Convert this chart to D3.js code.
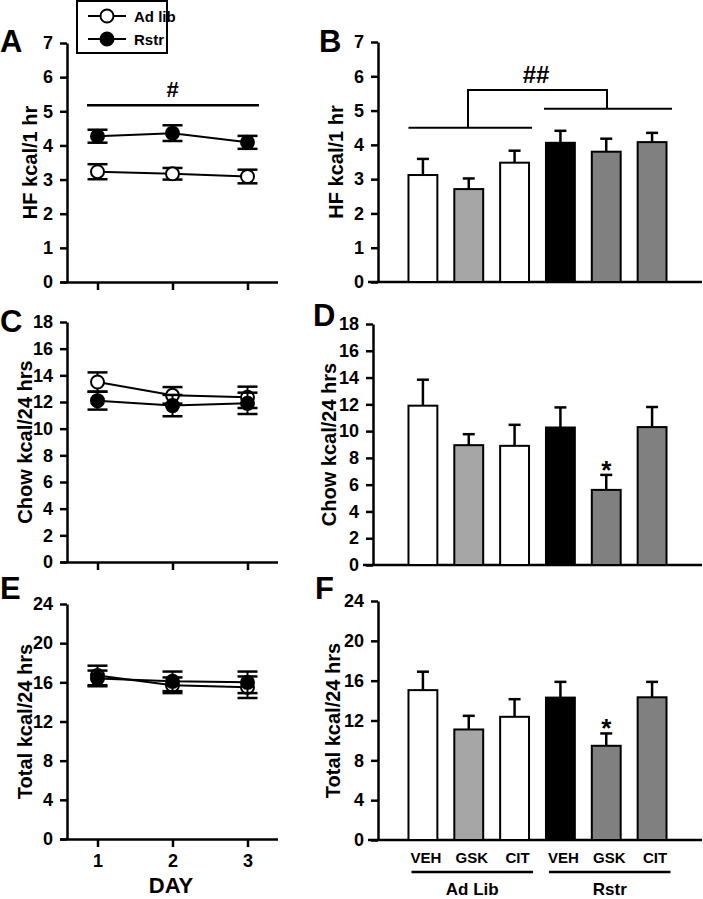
<!DOCTYPE html>
<html>
<head>
<meta charset="utf-8">
<script src="https://cdn.jsdelivr.net/npm/d3@7"></script>
<style>
body { margin: 0; background: #fff; }
text { font-family: "Liberation Sans", Arial, sans-serif; font-weight: bold; fill: #000; }
</style>
</head>
<body>
<script>
// ---- data ----
var days = [1, 2, 3];

var hfAdLib = [3.23, 3.17, 3.09], hfAdLibErr = [0.22, 0.17, 0.20];
var hfRstr = [4.27, 4.36, 4.09], hfRstrErr = [0.19, 0.23, 0.19];
var chowAdLib = [13.5, 12.5, 12.35], chowAdLibErr = [0.72, 0.62, 0.8];
var chowRstr = [12.1, 11.73, 11.9], chowRstrErr = [0.67, 0.8, 0.8];
var totalAdLib = [16.7, 15.7, 15.5], totalAdLibErr = [1.0, 0.8, 1.1];
var totalRstr = [16.4, 16.1, 16.0], totalRstrErr = [0.8, 1.0, 1.1];

var drugs = ["VEH", "GSK", "CIT", "VEH", "GSK", "CIT"];
var feeding = ["Ad Lib", "Rstr"];
var hfBar = [3.12, 2.71, 3.48, 4.06, 3.80, 4.08], hfBarErr = [0.47, 0.31, 0.35, 0.35, 0.38, 0.27];
var chowBar = [11.9, 8.95, 8.9, 10.27, 5.61, 10.3], chowBarErr = [1.94, 0.82, 1.57, 1.5, 1.12, 1.5];
var totalBar = [15.05, 11.1, 12.37, 14.3, 9.46, 14.33], totalBarErr = [1.85, 1.37, 1.77, 1.58, 1.24, 1.55];
var barFill = ["#fff", "#a6a6a6", "#fff", "#000", "#808080", "#808080"];

var hfTicks = [0, 1, 2, 3, 4, 5, 6, 7],
	chowTicks = [0, 2, 4, 6, 8, 10, 12, 14, 16, 18],
	totalTicks = [0, 4, 8, 12, 16, 20, 24];

var svg = d3.select("body").append("svg")
	.attr("width", 703).attr("height", 899);

function styleAxis(g) {
	g.select(".domain").attr("stroke-width", 2.5);
	g.selectAll(".tick line").attr("stroke-width", 2.5);
	g.selectAll("text").attr("font-size", 18).attr("font-family", "Liberation Sans").attr("font-weight", "bold");
}

function yAxisDraw(y, ax, ticks, title, titleX) {
	svg.append("g")
		.attr("transform", "translate(" + ax + ",0)")
		.call(d3.axisLeft(y).tickValues(ticks).tickFormat(d3.format("d"))
			.tickSize(7).tickPadding(7).tickSizeOuter(0))
		.call(styleAxis);
	var mid = (y.range()[0] + y.range()[1]) / 2;
	svg.append("text")
		.attr("transform", "translate(" + titleX + "," + mid + ") rotate(-90)")
		.attr("text-anchor", "middle").attr("dy", "0.35em")
		.attr("font-size", 20)
		.text(title);
}

function letter(t, x, y) {
	svg.append("text").attr("x", x).attr("y", y).attr("font-size", 31).text(t);
}

// ---- line panels (A, C, E) ----
function linePanel(p) {
	var x = d3.scaleLinear().domain([0.5, 3.4]).range([60, 277.5]);
	var y = d3.scaleLinear().domain([0, p.max]).range([p.y0, p.yTop]);
	yAxisDraw(y, 67, p.ticks, p.title, p.titleX);

	svg.append("g")
		.attr("transform", "translate(0," + p.y0 + ")")
		.call(d3.axisBottom(x).tickValues(days).tickFormat(d3.format("d"))
			.tickSize(8).tickPadding(7).tickSizeOuter(0))
		.call(styleAxis)
		.call(function(g) { if (!p.labels) g.selectAll("text").remove(); });

	var series = [
		{v: p.adlib, e: p.adlibErr, fill: "#fff"},
		{v: p.rstr, e: p.rstrErr, fill: "#000"}
	];
	var line = d3.line().x(function(d, i) { return x(days[i]); }).y(function(d) { return y(d); });

	series.forEach(function(s) {
		var g = svg.append("g");
		g.append("path").attr("d", line(s.v)).attr("fill", "none").attr("stroke", "#000").attr("stroke-width", 2);
		s.v.forEach(function(v, i) {
			var cx = x(days[i]);
			g.append("line").attr("x1", cx).attr("x2", cx).attr("y1", y(v - s.e[i])).attr("y2", y(v + s.e[i]))
				.attr("stroke", "#000").attr("stroke-width", 2);
			[v - s.e[i], v + s.e[i]].forEach(function(c) {
				g.append("line").attr("x1", cx - 10).attr("x2", cx + 10).attr("y1", y(c)).attr("y2", y(c))
					.attr("stroke", "#000").attr("stroke-width", 2.5);
			});
			g.append("circle").attr("cx", cx).attr("cy", y(v)).attr("r", 6.5)
				.attr("fill", s.fill).attr("stroke", "#000").attr("stroke-width", 2);
		});
	});
	return {x: x, y: y};
}

// ---- bar panels (B, D, F) ----
function barPanel(p) {
	var x = d3.scaleBand().domain(d3.range(drugs.length)).range([400, 675])
		.paddingInner(0.37).paddingOuter(0.185);
	var y = d3.scaleLinear().domain([0, p.max]).range([p.y0, p.yTop]);
	yAxisDraw(y, p.ax, p.ticks, p.title, p.titleX);

	svg.append("line").attr("x1", p.ax - 10).attr("x2", 702).attr("y1", p.y0).attr("y2", p.y0)
		.attr("stroke", "#000").attr("stroke-width", 2.5);

	var g = svg.append("g");
	p.vals.forEach(function(v, i) {
		var cx = x(i) + x.bandwidth() / 2;
		g.append("line").attr("x1", cx).attr("x2", cx).attr("y1", y(v)).attr("y2", y(v + p.err[i]))
			.attr("stroke", "#000").attr("stroke-width", 2.5);
		g.append("line").attr("x1", cx - 6).attr("x2", cx + 6).attr("y1", y(v + p.err[i])).attr("y2", y(v + p.err[i]))
			.attr("stroke", "#000").attr("stroke-width", 2.5);
		g.append("rect").attr("x", x(i)).attr("y", y(v)).attr("width", x.bandwidth()).attr("height", p.y0 - y(v))
			.attr("fill", barFill[i]).attr("stroke", "#000").attr("stroke-width", 2);
	});
	return {x: x, y: y};
}

// A
letter("A", 0, 52);
var A = linePanel({max: 7, y0: 282, yTop: 43, ticks: hfTicks, title: "HF kcal/1 hr", titleX: 30,
	adlib: hfAdLib, adlibErr: hfAdLibErr, rstr: hfRstr, rstrErr: hfRstrErr});
svg.append("line").attr("x1", 87).attr("x2", 259).attr("y1", A.y(5.18)).attr("y2", A.y(5.18))
	.attr("stroke", "#000").attr("stroke-width", 2.5);
svg.append("text").attr("x", A.x(2)).attr("y", A.y(5.18) - 8).attr("text-anchor", "middle")
	.attr("font-size", 22).attr("font-weight", "normal").text("#");

// legend
var leg = svg.append("g");
leg.append("rect").attr("x", 77).attr("y", 1).attr("width", 90).attr("height", 52)
	.attr("fill", "#fff").attr("stroke", "#000").attr("stroke-width", 2);
[{t: "Ad lib", f: "#fff", y: 16}, {t: "Rstr", f: "#000", y: 39}].forEach(function(d) {
	leg.append("line").attr("x1", 88).attr("x2", 126).attr("y1", d.y).attr("y2", d.y)
		.attr("stroke", "#000").attr("stroke-width", 2);
	leg.append("circle").attr("cx", 107).attr("cy", d.y).attr("r", 6.5)
		.attr("fill", d.f).attr("stroke", "#000").attr("stroke-width", 2);
	leg.append("text").attr("x", 134).attr("y", d.y + 5.5).attr("font-size", 15).text(d.t);
});

// B
letter("B", 319, 52);
var B = barPanel({max: 7, y0: 282, yTop: 42, ax: 378, ticks: hfTicks, title: "HF kcal/1 hr", titleX: 336,
	vals: hfBar, err: hfBarErr});
(function() {
	var yl = B.y(4.5), yr = B.y(5.05), yt = B.y(5.6);
	var xl = B.x(0), xlEnd = B.x(2) + B.x.bandwidth() + 3, xr = B.x(3), xrEnd = 672;
	var bx1 = 468, bx2 = 607;
	var st = function(s) { return s.attr("stroke", "#000").attr("stroke-width", 2).attr("fill", "none"); };
	st(svg.append("line").attr("x1", xl).attr("x2", xlEnd).attr("y1", yl).attr("y2", yl));
	st(svg.append("line").attr("x1", xr - 2).attr("x2", xrEnd).attr("y1", yr).attr("y2", yr));
	st(svg.append("path").attr("d", "M" + bx1 + "," + yl + "V" + yt + "H" + bx2 + "V" + yr));
	svg.append("text").attr("x", 536).attr("y", yt - 7).attr("text-anchor", "middle")
		.attr("font-size", 24).attr("font-weight", "normal").text("##");
})();

// C
letter("C", 0, 332);
linePanel({max: 18, y0: 562, yTop: 322, ticks: chowTicks, title: "Chow kcal/24 hrs", titleX: 25,
	adlib: chowAdLib, adlibErr: chowAdLibErr, rstr: chowRstr, rstrErr: chowRstrErr});

// D
letter("D", 313, 326);
var D = barPanel({max: 18, y0: 565, yTop: 324, ax: 373, ticks: chowTicks, title: "Chow kcal/24 hrs", titleX: 329,
	vals: chowBar, err: chowBarErr});
svg.append("text").attr("x", D.x(4) + D.x.bandwidth() / 2).attr("y", D.y(chowBar[4] + chowBarErr[4]) + 4)
	.attr("text-anchor", "middle").attr("font-size", 26).attr("font-weight", "normal").text("*");

// E
letter("E", 0, 599);
linePanel({max: 24, y0: 839, yTop: 604, ticks: totalTicks, title: "Total kcal/24 hrs", titleX: 25, labels: true,
	adlib: totalAdLib, adlibErr: totalAdLibErr, rstr: totalRstr, rstrErr: totalRstrErr});
svg.append("text").attr("x", 171).attr("y", 893).attr("text-anchor", "middle").attr("font-size", 22).text("DAY");

// F
letter("F", 315, 599);
var F = barPanel({max: 24, y0: 840, yTop: 601, ax: 378, ticks: totalTicks, title: "Total kcal/24 hrs", titleX: 333,
	vals: totalBar, err: totalBarErr});
svg.append("text").attr("x", F.x(4) + F.x.bandwidth() / 2).attr("y", F.y(totalBar[4] + totalBarErr[4]) + 4)
	.attr("text-anchor", "middle").attr("font-size", 26).attr("font-weight", "normal").text("*");

drugs.forEach(function(d, i) {
	svg.append("text").attr("x", F.x(i) + F.x.bandwidth() / 2 + 3).attr("y", 863)
		.attr("text-anchor", "middle").attr("font-size", 15).text(d);
});
feeding.forEach(function(f, k) {
	var x1 = F.x(k * 3) + 3, x2 = F.x(k * 3 + 2) + F.x.bandwidth() + 4;
	svg.append("line").attr("x1", x1).attr("x2", x2).attr("y1", 872).attr("y2", 872)
		.attr("stroke", "#000").attr("stroke-width", 2.5);
	svg.append("text").attr("x", (x1 + x2) / 2).attr("y", 895).attr("text-anchor", "middle")
		.attr("font-size", 17).text(f);
});
</script>
</body>
</html>
